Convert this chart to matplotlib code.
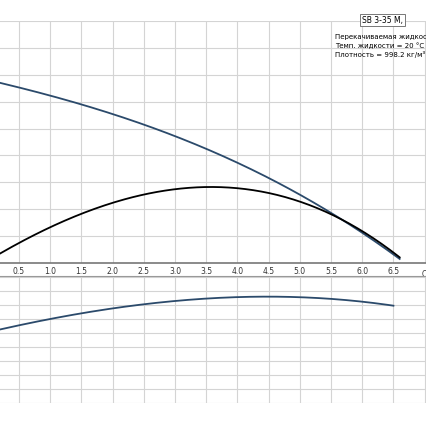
import numpy as np
import matplotlib.pyplot as plt

# flow Q [m3/h]
q_head = [0.2, 1.0, 1.5, 2.5, 3.0, 3.5, 4.0, 4.5, 5.0, 5.5, 6.0, 6.6]
head = [6.65, 6.25, 6.0, 5.13, 4.65, 4.2, 3.72, 3.16, 2.56, 1.93, 1.15, 0.1]

q_eff = [0.2, 1.0, 1.5, 2.0, 2.5, 3.5, 4.5, 5.5, 6.0, 6.6]
eff = [0.3, 1.4, 1.86, 2.27, 2.53, 2.75, 2.5, 1.93, 1.3, 0.1]

q_pow = [0.2, 1.0, 2.0, 3.0, 4.0, 4.5, 5.0, 5.5, 6.0, 6.5]
power = [73, 85, 95, 101, 105, 107, 106, 105, 101, 97]

xticks = [0.5, 1.0, 1.5, 2.0, 2.5, 3.0, 3.5, 4.0, 4.5, 5.0, 5.5, 6.0, 6.5]

W, H = 427, 430
fig = plt.figure(figsize=(W / 100, H / 100), dpi=100)
xlim = (0.195, 0.195 + W / 62.4)
grid_c = '#d4d4d4'
blue = '#2b4a6b'


def smooth(x, y):
    xs = np.linspace(x[0], x[-1], 200)
    c = np.polyfit(x, y, 3)
    return xs, np.polyval(c, xs)


ax1 = fig.add_axes([0, (H - 263) / H, 1, 242 / H])
ax1.set_xlim(*xlim)
ax1.set_ylim(0, 9)
for v in np.arange(0, 7.5, 0.5):
    ax1.axvline(v, color=grid_c, lw=0.8, zorder=0)
for v in range(1, 10):
    ax1.axhline(v, color=grid_c, lw=0.8, zorder=0)
ax1.plot(*smooth(q_head, head), color=blue, lw=1.3)
ax1.plot(*smooth(q_eff, eff), color='black', lw=1.3)
for s in ax1.spines.values():
    s.set_visible(False)
ax1.spines['bottom'].set_visible(True)
ax1.spines['bottom'].set_color('#777777')
ax1.spines['bottom'].set_linewidth(1.2)
ax1.set_xticks(xticks)
ax1.set_xticklabels([f'{t:.1f}' for t in xticks], fontsize=5.5, color='#333333')
ax1.tick_params(axis='x', length=0, pad=3)
ax1.set_yticks([])
ax1.text(6.95, -0.25, 'Q [', fontsize=5.5, color='#333333', va='top')

ax2 = fig.add_axes([0, (H - 403) / H, 1, 127 / H])
ax2.set_xlim(*xlim)
ax2.set_ylim(0, 127)
for v in np.arange(0, 7.5, 0.5):
    ax2.axvline(v, color=grid_c, lw=0.8, zorder=0)
for v in range(0, 127, 14):
    ax2.axhline(v, color=grid_c, lw=0.8, zorder=0)
ax2.plot(*smooth(q_pow, power), color=blue, lw=1.3)
for s in ax2.spines.values():
    s.set_visible(False)
ax2.spines['top'].set_visible(True)
ax2.spines['top'].set_color('#999999')
ax2.set_xticks([])
ax2.set_yticks([])

fig.text(362 / W, 1 - 20 / H, 'SB 3-35 M,', fontsize=5.5, va='center',
         bbox=dict(boxstyle='square,pad=0.25', fc='white', ec='#777777', lw=0.7))
fig.text(335 / W, 1 - 37 / H, 'Перекачиваемая жидкость = Вода', fontsize=5, va='center')
fig.text(335 / W, 1 - 46 / H, 'Темп. жидкости = 20 °C', fontsize=5, va='center')
fig.text(335 / W, 1 - 55 / H, 'Плотность = 998.2 кг/м³', fontsize=5, va='center')

fig.savefig('out.png', dpi=100, facecolor='white')
